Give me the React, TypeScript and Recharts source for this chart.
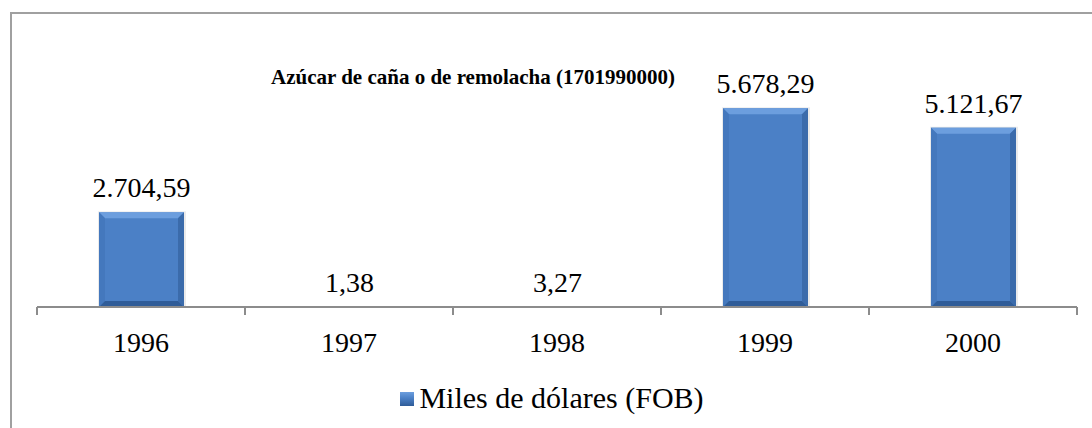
import React from 'react';
import { BarChart, Bar, XAxis, YAxis, LabelList } from 'recharts';

const years = ['1996', '1997', '1998', '1999', '2000'];
const values = [2704.59, 1.38, 3.27, 5678.29, 5121.67];
const seriesName = 'Miles de dólares (FOB)';
const title = 'Azúcar de caña o de remolacha (1701990000)';

const data = years.map((year, i) => ({ year, value: values[i] }));

const FONT = '"Liberation Serif", "Times New Roman", serif';
const AXIS = '#8c8c8c';

// 2704.59 -> "2.704,59"
const formatEs = (v: number) => {
  const [int, dec] = v.toFixed(2).split('.');
  return int.replace(/\B(?=(\d{3})+(?!\d))/g, '.') + ',' + dec;
};

const BevelBar = (props: any) => {
  const { x, y, width, height } = props;
  if (!height || height < 1) return null;
  const b = Math.min(6, height / 2);
  return (
    <g>
      <rect x={x - 1} y={y - 1} width={width + 3} height={height + 2} fill="#000" opacity={0.08} />
      <rect x={x} y={y} width={width} height={height} fill="#4b80c6" />
      <polygon points={`${x},${y} ${x + width},${y} ${x + width - b},${y + b} ${x + b},${y + b}`} fill="#6c9ede" />
      <polygon points={`${x},${y} ${x + b},${y + b} ${x + b},${y + height - b} ${x},${y + height}`} fill="#4478bd" />
      <polygon points={`${x + width},${y} ${x + width},${y + height} ${x + width - b},${y + height - b} ${x + width - b},${y + b}`} fill="#3b6bab" />
      <polygon points={`${x},${y + height} ${x + b},${y + height - b} ${x + width - b},${y + height - b} ${x + width},${y + height}`} fill="#2f5c98" />
    </g>
  );
};

const ValueLabel = (props: any) => {
  const { x, y, width, value } = props;
  return (
    <text x={x + width / 2} y={y - 15} textAnchor="middle" fontFamily={FONT} fontSize={28} fill="#000">
      {formatEs(value)}
    </text>
  );
};

// Excel style: tick marks sit between categories, label in the middle
const YearTick = (props: any) => {
  const { x, y, payload, index, visibleTicksCount, width } = props;
  const half = payload.offset || width / visibleTicksCount / 2;
  const last = index === visibleTicksCount - 1;
  return (
    <g>
      <line x1={x - half} x2={x - half} y1={y} y2={y + 8} stroke={AXIS} strokeWidth={2} />
      {last && <line x1={x + half} x2={x + half} y1={y} y2={y + 8} stroke={AXIS} strokeWidth={2} />}
      <text x={x} y={y + 45} textAnchor="middle" fontFamily={FONT} fontSize={28} fill="#000">
        {payload.value}
      </text>
    </g>
  );
};

export default function App() {
  return (
    <div style={{ position: 'absolute', left: 0, top: 0, width: 1092, height: 428, background: '#fff', overflow: 'hidden' }}>
      <div
        style={{
          position: 'absolute',
          left: 10,
          top: 12,
          width: 1100,
          height: 440,
          borderTop: '2px solid #a0a0a0',
          borderLeft: '2px solid #a0a0a0',
        }}
      />
      <div
        style={{
          position: 'absolute',
          left: 173,
          top: 67,
          width: 600,
          textAlign: 'center',
          fontFamily: FONT,
          fontWeight: 'bold',
          fontSize: 21,
          lineHeight: '21px',
          color: '#000',
        }}
      >
        {title}
      </div>
      <div style={{ position: 'absolute', left: 0, top: 0 }}>
        <BarChart width={1092} height={428} data={data} margin={{ top: 97, right: 15, left: 37, bottom: 71 }}>
          <XAxis
            dataKey="year"
            axisLine={{ stroke: AXIS, strokeWidth: 2 }}
            tickLine={false}
            tickSize={0}
            tickMargin={0}
            height={50}
            tick={<YearTick />}
            interval={0}
          />
          <YAxis hide domain={[0, 6000]} />
          <Bar dataKey="value" name={seriesName} barSize={85} shape={<BevelBar />} isAnimationActive={false}>
            <LabelList dataKey="value" content={<ValueLabel />} />
          </Bar>
        </BarChart>
      </div>
      <div
        style={{
          position: 'absolute',
          left: 6,
          top: 383,
          width: 1092,
          display: 'flex',
          justifyContent: 'center',
          alignItems: 'center',
          fontFamily: FONT,
          fontSize: 30,
          lineHeight: '30px',
          color: '#000',
        }}
      >
        <span style={{ display: 'inline-block', width: 14, height: 14, marginRight: 5, marginTop: 2, background: 'linear-gradient(#6c9ede, #4a7fc5 45%, #2f5c98)' }} />
        <span>{seriesName}</span>
      </div>
    </div>
  );
}
